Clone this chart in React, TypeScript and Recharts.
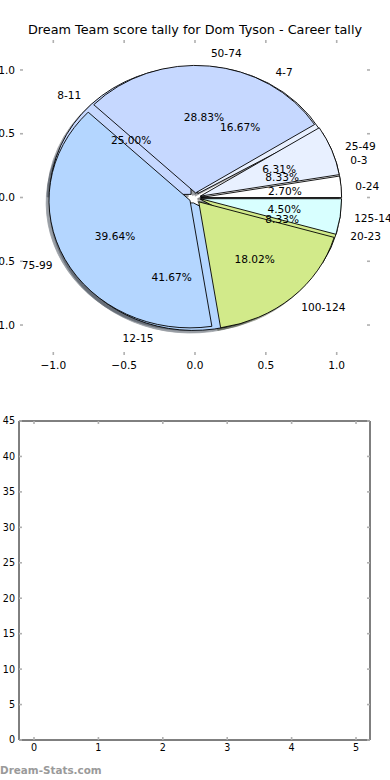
import React from 'react';
import { PieChart, Pie, Cell, ScatterChart, XAxis, YAxis } from 'recharts';

// score ranges (outer tally)
const scoreRanges = ['0-24', '25-49', '50-74', '75-99', '100-124', '125-149'];
const scoreShares = [2.7, 6.31, 28.83, 39.64, 18.02, 4.5];

// goal tally ranges (drawn underneath)
const tallyRanges = ['0-3', '4-7', '8-11', '12-15', '20-23'];
const tallyShares = [8.33, 16.67, 25.0, 41.67, 8.33];

const sliceColors = ['#ffffff', '#e8f0ff', '#c6d8ff', '#b4d6ff', '#d2ea8a', '#d8ffff'];

const pieTicks = [-1, -0.5, 0, 0.5, 1];
const countTicks = [0, 5, 10, 15, 20, 25, 30, 35, 40, 45];
const slotTicks = [0, 1, 2, 3, 4, 5];

const scoreData = scoreRanges.map((name, i) => ({ name, share: scoreShares[i] }));
const tallyData = tallyRanges.map((name, i) => ({ name, share: tallyShares[i] }));

const FONT = '"DejaVu Sans", sans-serif';
const RAD = Math.PI / 180;
const EXPLODE = 0.04;
const SQUASH = 127.5 / 141; // the axes are not equal aspect, so the pie is an ellipse

const fmtPieTick = (v: number) => (v < 0 ? '\u2212' : '') + Math.abs(v).toFixed(1);

function wedgePath(cx: number, cy: number, rx: number, ry: number, a0: number, a1: number) {
  const x0 = cx + rx * Math.cos(a0 * RAD);
  const y0 = cy - ry * Math.sin(a0 * RAD);
  const x1 = cx + rx * Math.cos(a1 * RAD);
  const y1 = cy - ry * Math.sin(a1 * RAD);
  const large = Math.abs(a1 - a0) > 180 ? 1 : 0;
  return `M${cx},${cy} L${x0},${y0} A${rx},${ry} 0 ${large} 0 ${x1},${y1} Z`;
}

function darken(hex: string) {
  const n = parseInt(hex.slice(1), 16);
  const r = Math.round(((n >> 16) & 255) * 0.3);
  const g = Math.round(((n >> 8) & 255) * 0.3);
  const b = Math.round((n & 255) * 0.3);
  return `rgb(${r},${g},${b})`;
}

const makeWedge = (shadow: boolean) => (props: any) => {
  const { cx, cy, outerRadius, startAngle, endAngle, midAngle, fill } = props;
  const rx = outerRadius;
  const ry = outerRadius * SQUASH;
  const ox = cx + EXPLODE * rx * Math.cos(midAngle * RAD) - (shadow ? 0.02 * rx : 0);
  const oy = cy - EXPLODE * ry * Math.sin(midAngle * RAD) + (shadow ? 0.02 * ry : 0);
  const d = wedgePath(ox, oy, rx, ry, startAngle, endAngle);
  if (shadow) {
    const c = darken(fill || '#ffffff');
    return <path d={d} fill={c} stroke={c} strokeWidth={0.8} opacity={0.5} />;
  }
  return <path d={d} fill={fill} stroke="#000" strokeWidth={0.9} strokeLinejoin="round" />;
};

const noWedge = () => <g />;

const pieLabel = (props: any) => {
  const { cx, cy, outerRadius, midAngle, payload } = props;
  const rx = outerRadius;
  const ry = outerRadius * SQUASH;
  const c = Math.cos(midAngle * RAD);
  const s = Math.sin(midAngle * RAD);
  const lx = cx + (1.1 + EXPLODE) * rx * c;
  const ly = cy - (1.1 + EXPLODE) * ry * s;
  const px = cx + (0.6 + EXPLODE) * rx * c;
  const py = cy - (0.6 + EXPLODE) * ry * s;
  const share = payload?.share ?? props.value;
  return (
    <g fontFamily={FONT} fontSize={10.6} fill="#000">
      <text x={lx} y={ly} textAnchor={lx > cx ? 'start' : 'end'} dominantBaseline="central">
        {payload?.name ?? props.name}
      </text>
      <text x={px} y={py} textAnchor="middle" dominantBaseline="central">
        {Number(share).toFixed(2)}%
      </text>
    </g>
  );
};

const tickStyle = { fill: '#000', fontSize: 10.6, fontFamily: FONT };
const smallTick = { fill: '#000', fontSize: 9.6, fontFamily: FONT };
const greyTick = { stroke: '#b0b0b0', strokeWidth: 1.6 };
const blankTick = () => <g />;

function TallyPie() {
  const common = {
    dataKey: 'share',
    nameKey: 'name',
    cx: 195,
    cy: 198,
    outerRadius: 141,
    startAngle: 0,
    endAngle: 360,
    isAnimationActive: false,
    stroke: 'none',
  };
  return (
    <PieChart width={390} height={380} margin={{ top: 0, right: 0, bottom: 0, left: 0 }}>
      <Pie {...common} data={tallyData} shape={makeWedge(true)} inactiveShape={makeWedge(true)} activeShape={makeWedge(true)}>
        {tallyData.map((d, i) => <Cell key={d.name} fill={sliceColors[i]} />)}
      </Pie>
      <Pie {...common} data={scoreData} shape={makeWedge(true)} inactiveShape={makeWedge(true)} activeShape={makeWedge(true)}>
        {scoreData.map((d, i) => <Cell key={d.name} fill={sliceColors[i]} />)}
      </Pie>
      <Pie {...common} data={tallyData} shape={makeWedge(false)} inactiveShape={makeWedge(false)} activeShape={makeWedge(false)}>
        {tallyData.map((d, i) => <Cell key={d.name} fill={sliceColors[i]} />)}
      </Pie>
      <Pie {...common} data={scoreData} shape={makeWedge(false)} inactiveShape={makeWedge(false)} activeShape={makeWedge(false)}>
        {scoreData.map((d, i) => <Cell key={d.name} fill={sliceColors[i]} />)}
      </Pie>
      <Pie {...common} data={tallyData} shape={noWedge} inactiveShape={noWedge} activeShape={noWedge} label={pieLabel} labelLine={false} />
      <Pie {...common} data={scoreData} shape={noWedge} inactiveShape={noWedge} activeShape={noWedge} label={pieLabel} labelLine={false} />
    </PieChart>
  );
}

function PieAxes() {
  const dom: [number, number] = [-1.235, 1.235];
  return (
    <ScatterChart width={390} height={380} margin={{ top: 39, right: 19, bottom: 5, left: 0 }}>
      <XAxis type="number" dataKey="x" domain={dom} ticks={pieTicks} tickFormatter={fmtPieTick}
        axisLine={false} tickLine={greyTick} tickSize={-3} tickMargin={9} height={20} tick={tickStyle} interval={0} allowDataOverflow />
      <XAxis xAxisId="top" orientation="top" type="number" dataKey="x" domain={dom} ticks={pieTicks}
        axisLine={false} tickLine={greyTick} tickSize={-3} height={1} tick={blankTick} interval={0} allowDataOverflow />
      <YAxis type="number" dataKey="y" domain={dom} ticks={pieTicks} tickFormatter={fmtPieTick}
        axisLine={false} tickLine={greyTick} tickSize={-3} tickMargin={8} width={20} tick={tickStyle} interval={0} allowDataOverflow />
      <YAxis yAxisId="right" orientation="right" type="number" dataKey="y" domain={dom} ticks={pieTicks}
        axisLine={false} tickLine={greyTick} tickSize={-3} width={1} tick={blankTick} interval={0} allowDataOverflow />
    </ScatterChart>
  );
}

function EmptyCounts() {
  const xDom: [number, number] = [-0.233, 5.217];
  const yDom: [number, number] = [0, 45];
  const frame = { stroke: '#000', strokeWidth: 1 };
  return (
    <ScatterChart width={390} height={400} margin={{ top: 40, right: 19, bottom: 20, left: 0 }}>
      <XAxis type="number" dataKey="x" domain={xDom} ticks={slotTicks} axisLine={frame}
        tickLine={greyTick} tickSize={-3} tickMargin={7} height={20} tick={smallTick} interval={0} allowDataOverflow />
      <XAxis xAxisId="top" orientation="top" type="number" dataKey="x" domain={xDom} ticks={slotTicks} axisLine={frame}
        tickLine={greyTick} tickSize={-3} height={1} tick={blankTick} interval={0} allowDataOverflow />
      <YAxis type="number" dataKey="y" domain={yDom} ticks={countTicks} axisLine={frame}
        tickLine={greyTick} tickSize={-3} tickMargin={7} width={19} tick={smallTick} interval={0} allowDataOverflow />
      <YAxis yAxisId="right" orientation="right" type="number" dataKey="y" domain={yDom} ticks={countTicks} axisLine={frame}
        tickLine={greyTick} tickSize={-3} width={1} tick={blankTick} interval={0} allowDataOverflow />
    </ScatterChart>
  );
}

export default function App() {
  return (
    <div style={{ position: 'absolute', left: 0, top: 0, width: 390, height: 780, background: '#fff', overflow: 'hidden' }}>
      <div style={{ position: 'absolute', left: 0, top: 0 }}>
        <TallyPie />
      </div>
      <div style={{ position: 'absolute', left: 0, top: 0 }}>
        <PieAxes />
      </div>
      <div style={{ position: 'absolute', left: 0, top: 22, width: 390, textAlign: 'center', fontFamily: FONT, fontSize: 12.8, lineHeight: '16px', color: '#000' }}>
        Dream Team score tally for Dom Tyson - Career tally
      </div>
      <div style={{ position: 'absolute', left: 0, top: 380 }}>
        <EmptyCounts />
      </div>
      <div style={{ position: 'absolute', left: 0, top: 762, fontFamily: FONT, fontSize: 10.4, fontWeight: 'bold', color: '#9a9a9a', lineHeight: '16px' }}>
        Dream-Stats.com
      </div>
    </div>
  );
}
